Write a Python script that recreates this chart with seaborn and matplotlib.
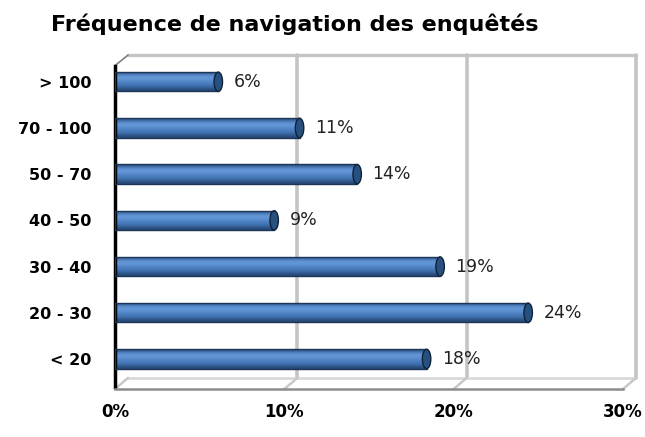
import numpy as np
import pandas as pd
import seaborn as sns
import matplotlib.pyplot as plt
from matplotlib.patches import Ellipse

# Données (de haut en bas)
categories = ['> 100', '70 - 100', '50 - 70', '40 - 50', '30 - 40', '20 - 30', '< 20']
frequences = [6.1, 10.9, 14.3, 9.4, 19.2, 24.4, 18.4]
ticks_x = [0, 10, 20, 30]
ticks_x_labels = ['0%', '10%', '20%', '30%']
titre = 'Fréquence de navigation des enquêtés'

df = pd.DataFrame({'tranche': categories, 'freq': frequences})

sns.set_style('white')
plt.rcParams['font.family'] = ['DejaVu Sans']
plt.rcParams['text.color'] = 'black'

fig = plt.figure(figsize=(6.45, 4.37), dpi=100)
ax = fig.add_axes([115 / 645, 48 / 437, 508 / 645, 334 / 437])

sns.barplot(data=df, x='freq', y='tranche', orient='h', order=categories,
            color='#4a7ebb', edgecolor='#1c3558', linewidth=1.0,
            width=0.42, saturation=1, ax=ax)

# effet cylindre : dégradé vertical dans chaque barre
grad = np.array([[0.3], [0.8], [0.95], [0.75], [0.6], [0.45], [0.2]])
cmap = sns.blend_palette(['#142c4a', '#3f72b2', '#6c9fe0'], as_cmap=True)
for p in list(ax.patches):
    x0, y0 = p.get_x(), p.get_y()
    w, h = p.get_width(), p.get_height()
    im = ax.imshow(grad, cmap=cmap, vmin=0, vmax=1, aspect='auto',
                   extent=[x0, x0 + w, y0 + h, y0], zorder=2, interpolation='bicubic')
    im.set_clip_path(p)
    p.set_zorder(3)
    p.set_facecolor('none')
    cap = Ellipse((x0 + w, y0 + h / 2), 0.5, h, facecolor='#27507f',
                  edgecolor='#0f223a', linewidth=1.0, zorder=4)
    ax.add_patch(cap)

ax.bar_label(ax.containers[0], labels=[f'{v:.0f}%' for v in frequences],
             padding=11, fontsize=12.5, color='#222222')

# limites et axes
ax.set_xlim(0, 30)
ax.set_ylim(6.65, -0.58)
ax.set_xlabel('')
ax.set_ylabel('')
ax.set_xticks(ticks_x)
ax.set_xticklabels(ticks_x_labels, fontsize=12, fontweight='bold')
ax.set_yticks(range(len(categories)))
ax.set_yticklabels(categories, fontsize=11.5, fontweight='bold')
ax.set_yticks(np.arange(len(categories)) - 0.4, minor=True)
ax.tick_params(axis='y', which='major', length=0, pad=17, labelcolor='black')
ax.tick_params(axis='y', which='minor', length=5, color='#a0a0a0', width=1)
ax.tick_params(axis='x', length=4, color='#8c8c8c', width=1.5, pad=6, labelcolor='black')

for s in ['top', 'right']:
    ax.spines[s].set_visible(False)
ax.spines['left'].set_color('black')
ax.spines['left'].set_linewidth(2.5)
ax.spines['left'].set_bounds(6.6, -0.35)
ax.spines['bottom'].set_color('#8c8c8c')
ax.spines['bottom'].set_linewidth(1.8)

# plan du fond (effet 3D)
dx, dy = 0.77, 0.24
fond = '#c4c4c4'
y_top, y_sol = -0.58, 6.65 - dy
for t in ticks_x[1:]:
    ax.plot([t + dx, t + dx], [y_top, y_sol], color=fond, lw=2.6, zorder=1, clip_on=False)
ax.plot([dx, 30 + dx], [y_top, y_top], color=fond, lw=2.4, zorder=1, clip_on=False)
ax.plot([dx, 30 + dx], [y_sol, y_sol], color='#d9d9d9', lw=2, zorder=1, clip_on=False)
for t in ticks_x:
    ax.plot([t, t + dx], [6.65, y_sol], color='#c8c8c8', lw=1.8, zorder=1, clip_on=False)
ax.plot([0, dx], [-0.35, y_top], color='#808080', lw=1.2, zorder=1, clip_on=False)

fig.text(0.457, 0.945, titre, ha='center', va='center', fontsize=16, fontweight='bold')

fig.savefig('out.png', dpi=100)
